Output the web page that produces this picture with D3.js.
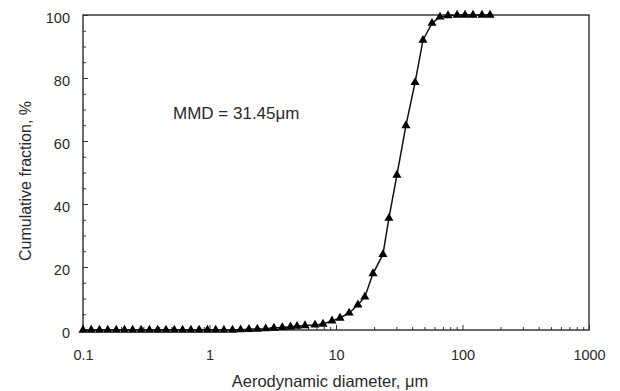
<!DOCTYPE html>
<html>
<head>
<meta charset="utf-8">
<script src="https://cdn.jsdelivr.net/npm/d3@7"></script>
<style>
  body { margin: 0; background: #fff; }
  text { font-family: "Liberation Sans", Arial, sans-serif; fill: #2a2a2a; }
</style>
</head>
<body>
<div id="chart"></div>
<script>
// aerodynamic diameter (um) and cumulative fraction (%)
var diameters = [0.10, 0.116, 0.135, 0.157, 0.183, 0.213, 0.247, 0.288, 0.335, 0.389,
  0.453, 0.527, 0.613, 0.713, 0.829, 0.964, 1.12, 1.30, 1.52, 1.76,
  2.05, 2.39, 2.78, 3.23, 3.76, 4.37, 4.92, 5.69, 6.82, 7.89,
  9.3, 10.76, 12.7, 14.9, 16.9, 19.6, 23.5, 26.2, 30.3, 35.7,
  42.2, 48.7, 57.4, 66.4, 76.8, 90.6, 104.7, 121, 142.6, 165];
var cumulative = [0, 0, 0, 0, 0, 0, 0, 0, 0, 0,
  0, 0, 0, 0, 0, 0, 0, 0, 0, 0.1,
  0.2, 0.3, 0.4, 0.6, 0.8, 1.0, 1.2, 1.4, 1.6, 1.9,
  2.9, 3.8, 5.4, 8.0, 10.5, 17.9, 24.0, 35.5, 49.2, 64.9,
  78.6, 92.0, 97.4, 99.4, 99.8, 100, 100, 100, 100, 100];
var xTickValues = [0.1, 1, 10, 100, 1000];
var xTickLabels = ["0.1", "1", "10", "100", "1000"];
var yTickValues = [0, 20, 40, 60, 80, 100];
var annotation = "MMD = 31.45\u03bcm";

var width = 620, height = 391;
var margin = {top: 15, right: 31, bottom: 61, left: 83};

var svg = d3.select("#chart").append("svg")
  .attr("width", width)
  .attr("height", height);

var x = d3.scaleLog().domain([0.1, 1000]).range([margin.left, width - margin.right]);
var y = d3.scaleLinear().domain([0, 100]).range([height - margin.bottom, margin.top]);

var data = diameters.map(function (d, i) { return {d: d, v: cumulative[i]}; });

// frame
svg.append("rect")
  .attr("x", x(0.1)).attr("y", y(100))
  .attr("width", x(1000) - x(0.1)).attr("height", y(0) - y(100))
  .attr("fill", "none").attr("stroke", "#3a3a3a").attr("stroke-width", 1.5);

// y axis: inward ticks, minor every 5
var yMinor = d3.range(0, 101, 5).filter(function (v) { return v % 20 !== 0; });
svg.append("g")
  .attr("transform", "translate(" + x(0.1) + ",0)")
  .call(d3.axisLeft(y).tickValues(yMinor).tickSize(-3).tickFormat(""))
  .call(function (g) { g.select(".domain").remove(); g.selectAll("line").attr("stroke", "#333"); });
svg.append("g")
  .attr("transform", "translate(" + x(0.1) + ",0)")
  .call(d3.axisLeft(y).tickValues(yTickValues).tickSizeInner(-5).tickSizeOuter(0).tickPadding(13))
  .call(function (g) {
    g.select(".domain").remove();
    g.selectAll("line").attr("stroke", "#333");
    g.selectAll("text").style("font-size", "14.5px").attr("fill", "#2a2a2a").attr("dy", "0.5em");
  });

// x axis: inward ticks, minors at 2..9 of each decade
var xMinor = [];
[0.1, 1, 10, 100].forEach(function (dec) {
  for (var k = 2; k <= 9; k++) xMinor.push(dec * k);
});
svg.append("g")
  .attr("transform", "translate(0," + y(0) + ")")
  .call(d3.axisBottom(x).tickValues(xMinor).tickSize(-3).tickFormat(""))
  .call(function (g) { g.select(".domain").remove(); g.selectAll("line").attr("stroke", "#333"); });
svg.append("g")
  .attr("transform", "translate(0," + y(0) + ")")
  .call(d3.axisBottom(x).tickValues(xTickValues).tickSizeInner(-5).tickSizeOuter(0).tickPadding(20)
    .tickFormat(function (d, i) { return xTickLabels[i]; }))
  .call(function (g) {
    g.select(".domain").remove();
    g.selectAll("line").attr("stroke", "#333");
    g.selectAll("text").style("font-size", "14.5px").attr("fill", "#2a2a2a");
  });

// curve
var line = d3.line()
  .x(function (p) { return x(p.d); })
  .y(function (p) { return y(p.v); });

svg.append("path")
  .datum(data)
  .attr("d", line)
  .attr("fill", "none")
  .attr("stroke", "#111")
  .attr("stroke-width", 1.5);

var tri = d3.symbol().type(d3.symbolTriangle).size(36);
svg.selectAll(".pt")
  .data(data)
  .enter().append("path")
  .attr("class", "pt")
  .attr("transform", function (p) { return "translate(" + x(p.d) + "," + y(p.v) + ")"; })
  .attr("d", tri)
  .attr("fill", "#000");

// annotation
svg.append("text")
  .attr("x", 173).attr("y", 119)
  .style("font-size", "17px")
  .text(annotation);

// axis titles
svg.append("text")
  .attr("x", (x(0.1) + x(1000)) / 2 - 6).attr("y", 387)
  .attr("text-anchor", "middle")
  .style("font-size", "16.5px")
  .text("Aerodynamic diameter, \u03bcm");

svg.append("text")
  .attr("transform", "translate(31," + 181 + ") rotate(-90)")
  .attr("text-anchor", "middle")
  .style("font-size", "16px")
  .text("Cumulative fraction, %");
</script>
</body>
</html>
